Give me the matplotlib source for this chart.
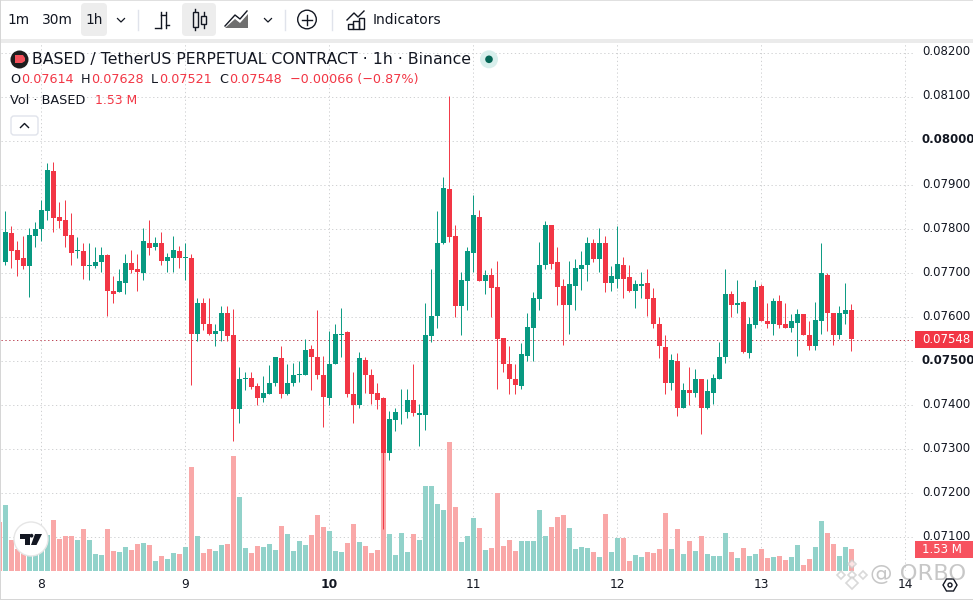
import numpy as np
import matplotlib
matplotlib.use('Agg')
from matplotlib import pyplot as plt
from matplotlib.patches import Rectangle, FancyBboxPatch, Circle, Polygon

# prices in units of 0.00001
opens = [7724,7789,7750,7732,7714,7782,7798,7839,7930,7825,7820,7786,7749,7748,7714,7714,7723,7739,7659,7655,
         7677,7721,7707,7698,7768,7757,7766,7725,7732,7748,7733,7734,7561,7630,7584,7561,7566,7607,7557,7389,
         7457,7461,7441,7414,7423,7448,7505,7425,7448,7468,7468,7525,7509,7468,7414,7491,7559,7564,7425,7400,
         7502,7466,7425,7414,7289,7364,7382,7382,7411,7377,7377,7555,7602,7766,7889,7782,7623,7680,7745,7827,
         7680,7695,7666,7550,7493,7459,7443,7511,7575,7639,7716,7807,7723,7670,7627,7670,7709,7716,7766,7730,
         7768,7675,7686,7718,7689,7659,7670,7675,7641,7582,7530,7450,7498,7391,7432,7427,7459,7391,7427,7459,
         7507,7650,7627,7632,7518,7580,7670,7589,7584,7636,7582,7575,7586,7605,7559,7534,7589,7695,7607,7559,
         7605,7614]
highs = [7839,7805,7771,7782,7802,7814,7864,7948,7952,7861,7864,7836,7780,7768,7768,7757,7759,7741,7693,7707,
         7743,7752,7741,7800,7820,7780,7791,7745,7782,7761,7768,7741,7643,7641,7641,7584,7625,7625,7616,7486,
         7475,7475,7448,7464,7489,7507,7532,7491,7495,7500,7548,7536,7614,7511,7568,7582,7620,7566,7473,7520,
         7509,7480,7448,7418,7386,7393,7436,7436,7491,7402,7630,7709,7839,7916,8100,7807,7700,7759,7877,7843,
         7705,7711,7727,7550,7532,7491,7539,7607,7655,7770,7816,7807,7757,7686,7725,7730,7748,7780,7775,7800,
         7782,7714,7805,7736,7716,7682,7702,7709,7664,7598,7559,7514,7518,7450,7486,7480,7459,7457,7470,7541,
         7709,7659,7682,7636,7600,7684,7673,7630,7641,7648,7630,7605,7618,7605,7589,7634,7768,7698,7609,7623,
         7675,7628]
lows = [7717,7711,7693,7707,7645,7757,7771,7820,7791,7802,7757,7718,7732,7686,7684,7711,7702,7602,7630,7655,
        7652,7698,7657,7682,7739,7750,7718,7700,7700,7711,7682,7445,7545,7570,7559,7532,7545,7545,7318,7357,
        7432,7436,7400,7405,7423,7443,7414,7421,7441,7452,7466,7432,7459,7350,7398,7491,7509,7418,7357,7391,
        7427,7402,7389,7118,7273,7339,7355,7370,7375,7305,7343,7543,7573,7764,7770,7600,7559,7614,7700,7680,
        7650,7598,7436,7475,7425,7423,7436,7498,7498,7614,7707,7709,7627,7536,7561,7614,7661,7680,7723,7702,
        7655,7657,7664,7643,7655,7620,7643,7602,7573,7505,7425,7434,7375,7391,7400,7416,7332,7389,7402,7459,
        7495,7600,7609,7516,7505,7575,7589,7573,7557,7573,7573,7564,7511,7557,7523,7525,7561,7568,7536,7550,
        7582,7521]
closes = [7791,7749,7728,7714,7786,7798,7843,7932,7823,7816,7784,7745,7750,7714,7716,7723,7739,7657,7652,7680,
          7721,7705,7700,7771,7755,7766,7725,7736,7750,7732,7734,7561,7630,7582,7561,7568,7607,7555,7389,7459,
          7461,7439,7414,7425,7450,7507,7425,7450,7468,7470,7523,7509,7468,7416,7493,7561,7561,7423,7398,7505,
          7466,7423,7411,7289,7366,7384,7384,7411,7380,7380,7557,7602,7768,7891,7780,7625,7682,7748,7830,7680,
          7695,7664,7550,7491,7459,7445,7514,7575,7641,7718,7807,7720,7668,7627,7673,7711,7718,7766,7730,7768,
          7675,7691,7720,7686,7659,7673,7673,7639,7582,7532,7450,7500,7391,7434,7427,7459,7391,7430,7461,7509,
          7652,7627,7630,7520,7582,7668,7589,7584,7636,7580,7573,7589,7605,7559,7534,7593,7698,7607,7559,7609,
          7614,7548]

# volume in millions
vol_prev = 3.43  # bar cut by the left edge
volumes = [4.59,2.16,1.53,1.23,1.04,1.34,1.46,2.50,3.55,2.23,2.43,2.43,2.16,2.92,2.16,1.18,1.11,2.92,1.39,1.32,
           1.67,1.46,1.88,1.95,1.81,0.70,1.04,0.83,1.25,1.18,1.67,7.23,2.43,1.25,1.53,1.39,1.81,1.88,8.00,5.15,
           1.60,1.25,1.74,1.67,1.88,1.46,3.13,2.57,1.39,2.09,1.81,2.50,3.89,3.06,2.78,1.39,1.32,1.95,3.27,2.02,
           1.74,1.25,1.46,8.27,2.57,1.11,2.64,1.32,2.57,2.16,5.91,5.91,4.66,4.24,8.97,4.45,2.02,2.43,3.69,2.99,
           1.46,1.60,5.42,1.74,2.16,1.39,2.09,2.09,2.09,4.24,2.43,3.06,3.76,3.89,2.99,1.53,1.67,1.60,1.32,0.97,
           3.96,1.32,2.29,2.32,0.70,1.11,0.97,1.32,1.25,1.53,4.03,1.53,2.92,1.18,2.09,1.39,2.43,1.18,1.04,1.04,
           2.64,1.32,0.90,1.60,1.04,1.18,1.53,0.90,0.97,1.04,0.76,0.97,1.81,0.42,0.83,1.67,3.48,2.64,1.88,1.04,
           1.67,1.53]

price_ticks = [0.082,0.081,0.080,0.079,0.078,0.077,0.076,0.075,0.074,0.073,0.072,0.071]
bold_prices = [0.080,0.075]
day_labels = ['8','9','10','11','12','13','14']
day_index = [6,30,54,78,102,126,150]
last_price = 0.07548
last_volume = '1.53 M'

GREEN = '#089981'
RED = '#F23645'
VOL_GREEN = '#92D2CA'
VOL_RED = '#F9A8A8'
GRID = '#CFD0D2'
TEXT = '#131722'
W, H = 973, 600

o = np.array(opens)/1e5
h = np.array(highs)/1e5
l = np.array(lows)/1e5
c = np.array(closes)/1e5
x = np.arange(len(o))
up = c >= o
colors = [GREEN if u else RED for u in up]
vcolors = [VOL_GREEN if u else VOL_RED for u in up]

plt.rcParams['font.family'] = 'DejaVu Sans'
fig = plt.figure(figsize=(W/100, H/100), dpi=100, facecolor='white')

# pixel box of the chart pane, bar i sits at 5.5+6i px
left, right, top, bottom = 1, 914, 41, 571
rect = [left/W, 1-bottom/H, (right-left)/W, (bottom-top)/H]
xlim = ((left-5.5)/6, (right-5.5)/6)
ylim = (0.079+(184.5-bottom)/44000, 0.079+(184.5-top)/44000)
# 1 px lines get snapped a pixel off if they land exactly on .5, so nudge them
nudge_x = 0.3/6
nudge_y = 0.25/44000
dots = (0, (1.3, 2.7))
LINE = 0.7

# grid at the back
axg = fig.add_axes(rect, label='grid')
axg.set_xlim(xlim)
axg.set_ylim(ylim)
axg.set_yticks(np.array(price_ticks)-nudge_y)
axg.set_xticks(np.array(day_index)-nudge_x)
axg.tick_params(length=0, labelleft=False, labelbottom=False)
for s in axg.spines.values():
    s.set_visible(False)
axg.grid(True, color=GRID, linewidth=LINE, linestyle=dots)

# volume pane sits under the candles, 22 px = 1.53 M
axv = fig.add_axes(rect, label='vol')
axv.patch.set_alpha(0)
axv.set_xlim(xlim)
axv.set_ylim(0, (bottom-top)/22*1.53)
axv.set_axis_off()
axv.bar([-1], [vol_prev], width=5/6, color=VOL_RED, linewidth=0)
axv.bar(x, volumes, width=5/6, color=vcolors, linewidth=0)

ax = fig.add_axes(rect, label='price')
ax.patch.set_alpha(0)
ax.set_xlim(xlim)
ax.set_ylim(ylim)
ax.set_axis_off()
ax.axhline(last_price-nudge_y, color='#B8394A', linewidth=LINE, linestyle=dots, zorder=2)
wicks = ax.vlines(x-nudge_x, l, h, colors=colors, linewidth=LINE, zorder=3)
wicks.set_snap(True)
body_low = np.minimum(o, c)
body_h = np.maximum(np.abs(c-o), 0.00002)
ax.bar(x, body_h, bottom=body_low, width=5/6, color=colors, linewidth=0, zorder=4)

# everything else is page furniture, in pixels
ui = fig.add_axes([0, 0, 1, 1], label='ui')
ui.patch.set_alpha(0)
ui.set_xlim(0, W)
ui.set_ylim(H, 0)
ui.set_axis_off()


def py(p):
    return 184+(0.079-p)*44000


def px(i):
    return 5.5+6*i


# price axis
for p in price_ticks:
    ui.text(922, py(p), '%.5f' % p, fontsize=8.5, color=TEXT, va='center', ha='left', clip_on=True,
            fontweight='bold' if p in bold_prices else 'normal')
ui.add_patch(Rectangle((915, 331), 58, 17, color=RED, lw=0))
ui.text(922, 339.5, '%.5f' % last_price, fontsize=8.5, color='white', va='center', clip_on=True)
ui.add_patch(Rectangle((915, 541), 58, 17, color='#F7525F', lw=0))
ui.text(922, 549.5, last_volume, fontsize=8.5, color='white', va='center')

# time axis
for lab, i in zip(day_labels, day_index):
    ui.text(px(i), 585, lab, fontsize=8.8, color=TEXT, ha='center', va='center',
            fontweight='bold' if lab == '10' else 'normal')
ui.add_patch(Polygon([(943, 585), (946.5, 579), (953.5, 579), (957, 585), (953.5, 591), (946.5, 591)],
                     fill=False, ec=TEXT, lw=1))
ui.add_patch(Circle((950, 585), 2, fill=False, ec=TEXT, lw=1))

# frame
ui.add_patch(Rectangle((0, 39), W, 4, color='#EBEBEB', lw=0))
ui.add_patch(Rectangle((0, 0), W, 1, color='#E0E0E0', lw=0))
ui.add_patch(Rectangle((0, 598.5), W, 1.5, color='#D6D6D6', lw=0))
ui.add_patch(Rectangle((0, 0), 1, H, color='#D6D6D6', lw=0))

# toolbar
for bx, bw in [(81, 26), (182, 34)]:
    ui.add_patch(FancyBboxPatch((bx, 3), bw, 33, boxstyle='round,pad=0,rounding_size=4',
                                fc='#EDEDED', ec='none'))
ui.text(7, 20, '1m', fontsize=9.9, color=TEXT, va='center')
ui.text(42, 20, '30m', fontsize=9.9, color=TEXT, va='center')
ui.text(85, 20, '1h', fontsize=9.9, color=TEXT, va='center')
ui.text(373, 20, 'Indicators', fontsize=10, color=TEXT, va='center')
for cx in [121, 268]:
    ui.plot([cx-3.5, cx, cx+3.5], [18.5, 22, 18.5], color=TEXT, lw=0.9)
for sx in [137.5, 284.5, 331.5]:
    ui.plot([sx, sx], [10, 30], color='#E0E3EB', lw=1)
# bars icon
ui.plot([161, 161], [12, 28], color=TEXT, lw=1)
ui.plot([155, 161], [27.5, 27.5], color=TEXT, lw=1)
ui.plot([161, 165], [14.5, 14.5], color=TEXT, lw=1)
ui.plot([165.5, 165.5], [12, 28], color=TEXT, lw=1)
ui.plot([165.5, 169], [25, 25], color=TEXT, lw=1)
# candles icon
ui.plot([195, 195], [9, 30], color=TEXT, lw=1)
ui.add_patch(Rectangle((192.5, 12), 5, 15, fc='#EDEDED', ec=TEXT, lw=1, zorder=3))
ui.plot([203.5, 203.5], [12, 28], color=TEXT, lw=1)
ui.add_patch(Rectangle((201, 16), 5, 8, fc='#EDEDED', ec=TEXT, lw=1, zorder=3))
# area icon
ui.add_patch(Polygon([(225, 28), (235, 19), (240, 23), (248, 14), (248, 28)], fc='#6F6F6F', ec='none'))
ui.plot([225, 235, 240, 247], [26, 15, 19, 11], color=TEXT, lw=1)
# plus icon
ui.add_patch(Circle((307, 19.5), 9.3, fill=False, ec=TEXT, lw=1))
ui.plot([302, 312], [19.5, 19.5], color=TEXT, lw=1)
ui.plot([307, 307], [14.5, 24.5], color=TEXT, lw=1)
# indicators icon
for bx, by in [(347.5, 24), (353, 21), (358.5, 18)]:
    ui.add_patch(Rectangle((bx, by), 5.5, 28.5-by, fill=False, ec=TEXT, lw=1))
ui.plot([347, 354, 358, 364], [20, 13, 17, 11], color=TEXT, lw=1)

# legend
ui.add_patch(Circle((19.5, 59.5), 9, color='#1E1E1E', lw=0))
ui.add_patch(Polygon([(15, 55), (23, 55), (25, 58), (25, 61), (22, 63), (15, 63)], color='#F4505A', lw=0))
ui.text(32, 59.5, 'BASED / TetherUS PERPETUAL CONTRACT · 1h · Binance', fontsize=11.36, color=TEXT, va='center')
ui.add_patch(Circle((489, 59.3), 9, color='#D8EFEC', lw=0))
ui.add_patch(Circle((489, 59.3), 3.8, color='#056656', lw=0))
ohlc_x = [(10, 'O', TEXT), (21, '0.07614', RED), (80.5, 'H', TEXT), (91.5, '0.07628', RED),
          (151, 'L', TEXT), (159, '0.07521', RED), (219, 'C', TEXT), (229.5, '0.07548', RED),
          (289.5, '\u22120.00066 (\u22120.87%)', RED)]
for tx, s, col in ohlc_x:
    ui.text(tx, 79.5, s, fontsize=9.15, color=col, va='center')
ui.text(10, 100.5, 'Vol · BASED', fontsize=9.25, color=TEXT, va='center')
ui.text(95, 100.5, last_volume, fontsize=8.9, color=RED, va='center')
ui.add_patch(FancyBboxPatch((11, 116), 27, 19, boxstyle='round,pad=0,rounding_size=3', fc='white', ec='#E0E3EB', lw=1))
ui.plot([20.5, 24.5, 28.5], [127.5, 123.5, 127.5], color=TEXT, lw=1)

# tradingview badge
ui.add_patch(Circle((31, 539), 17, fc='white', ec='#E6E6E6', lw=1))
ui.add_patch(Polygon([(20, 534), (29.5, 534), (29.5, 545), (24.5, 545), (24.5, 538.5), (20, 538.5)], color='#131722', lw=0))
ui.add_patch(Polygon([(35, 534), (42, 534), (36.5, 545), (31, 545)], color='#131722', lw=0))
ui.add_patch(Circle((31.5, 535.7), 1.9, color='#131722', lw=0))

# watermark
ui.text(870.5, 574, '@ ORBO', fontsize=16.2, color='#9A9A9A', alpha=0.55, va='center')
for dx, dy, r in [(852, 564, 4), (841, 575, 4), (863, 575, 4), (852, 575, 4), (852, 583, 6)]:
    ui.add_patch(Polygon([(dx-r, dy), (dx, dy-r), (dx+r, dy), (dx, dy+r)], fc='white', ec='#C9C9C9',
                         lw=1.2, alpha=0.7))

fig.savefig('out.png', dpi=100)
